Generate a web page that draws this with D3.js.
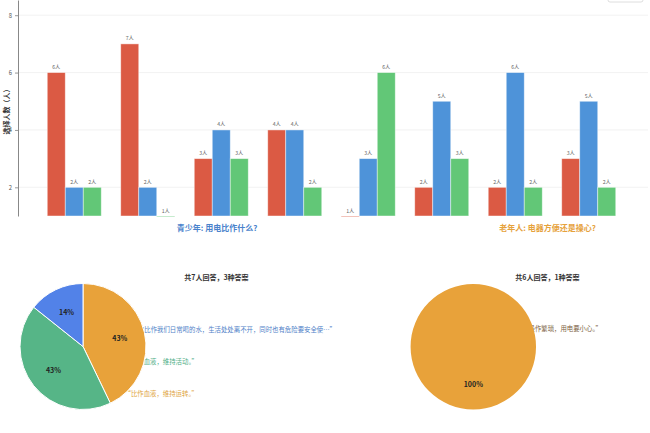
<!DOCTYPE html>
<html>
<head>
<meta charset="utf-8">
<script src="https://cdn.jsdelivr.net/npm/d3@7"></script>
<style>
  html, body { margin: 0; padding: 0; background: #fff; }
  svg { display: block; font-family: "Noto Sans CJK SC", "Noto Sans", sans-serif; }
</style>
</head>
<body>
<svg id="chart" width="650" height="433"></svg>
<script>
// bar chart data: 8 answer groups, 3 series
const groups = ['g1', 'g2', 'g3', 'g4', 'g5', 'g6', 'g7', 'g8'];
const seriesNames = ['red', 'blue', 'green'];
const redValues = [6, 7, 3, 4, 1, 2, 2, 3];
const blueValues = [2, 2, 4, 4, 3, 5, 6, 5];
const greenValues = [2, 1, 3, 2, 6, 3, 2, 2];
const yTicks = [2, 4, 6, 8];
const yLabel = '选择人数（人）';
const sectionLabels = ['青少年: 用电比作什么?', '老年人: 电器方便还是操心?'];

// pie data
const pie1Title = '共7人回答，3种答案';
const pie1Values = [3, 3, 1];
const pie1Texts = [
  '“比作血液，维持运转。”',
  '“把电比作血液，维持活动。”',
  '“把电比作我们日常喝的水，生活处处离不开，同时也有危险要安全使…”',
];
const pie2Title = '共6人回答，1种答案';
const pie2Values = [6];
const pie2Texts = ['“电器操作繁琐，用电要小心。”'];

const barColors = { red: '#db5a44', blue: '#4e93d9', green: '#62c777' };
const pieColors = ['#e8a23a', '#56b587', '#5282e8'];
const pieTextColors = ['#e0a440', '#4fae86', '#4f7fc8'];

const svg = d3.select('#chart');

// ---- bars ----
const x0 = d3.scaleBand().domain(groups).range([18, 645])
  .paddingInner(0.265).paddingOuter(0.398);
const x1 = d3.scaleBand().domain(seriesNames).range([0, x0.bandwidth()]);
const y = d3.scaleLinear().domain([1, 8.53]).range([216, 0]);

svg.append('g')
  .selectAll('line')
  .data(yTicks)
  .join('line')
  .attr('x1', 18)
  .attr('x2', 648)
  .attr('y1', d => y(d))
  .attr('y2', d => y(d))
  .attr('stroke', '#efefef')
  .attr('stroke-width', 0.8);

const barData = groups.map((g, i) => ({
  group: g,
  values: [
    { key: 'red', value: redValues[i] },
    { key: 'blue', value: blueValues[i] },
    { key: 'green', value: greenValues[i] },
  ],
}));

const groupSel = svg.append('g')
  .selectAll('g')
  .data(barData)
  .join('g')
  .attr('transform', d => `translate(${x0(d.group)},0)`);

groupSel.selectAll('rect')
  .data(d => d.values)
  .join('rect')
  .attr('x', d => x1(d.key))
  .attr('y', d => y(d.value))
  .attr('width', x1.bandwidth())
  .attr('height', d => Math.max(0.8, y(1) - y(d.value)))
  .attr('fill', d => barColors[d.key])
  .attr('stroke', 'rgba(255,255,255,0.55)')
  .attr('stroke-width', 0.8);

groupSel.selectAll('text')
  .data(d => d.values)
  .join('text')
  .attr('x', d => x1(d.key) + x1.bandwidth() / 2)
  .attr('y', d => y(d.value) - 3.5)
  .attr('text-anchor', 'middle')
  .attr('font-size', 5.2)
  .attr('fill', '#666')
  .text(d => `${d.value}人`);

const yAxis = svg.append('g')
  .attr('transform', 'translate(18,0)')
  .call(d3.axisLeft(y).tickValues(yTicks).tickSize(3).tickSizeOuter(0));
yAxis.select('.domain').attr('stroke', '#888');
yAxis.selectAll('.tick line').attr('stroke', '#999');
yAxis.selectAll('.tick text')
  .attr('font-size', 5.8)
  .attr('fill', '#555')
  .attr('font-family', '"Noto Sans CJK SC", sans-serif');

svg.append('text')
  .attr('transform', 'translate(9,110) rotate(-90)')
  .attr('text-anchor', 'middle')
  .attr('font-size', 7)
  .attr('font-weight', 'bold')
  .attr('fill', '#333')
  .text(yLabel);

svg.append('text')
  .attr('x', 217).attr('y', 231)
  .attr('text-anchor', 'middle')
  .attr('font-size', 8)
  .attr('font-weight', 'bold')
  .attr('fill', '#4a82cc')
  .text(sectionLabels[0]);

svg.append('text')
  .attr('x', 547.5).attr('y', 231)
  .attr('text-anchor', 'middle')
  .attr('font-size', 8)
  .attr('font-weight', 'bold')
  .attr('fill', '#e6a23c')
  .text(sectionLabels[1]);

// small button box at top right (mostly cut off)
svg.append('rect')
  .attr('x', 608).attr('y', -20)
  .attr('width', 35).attr('height', 22)
  .attr('rx', 2)
  .attr('fill', '#fff')
  .attr('stroke', '#d6d6d6')
  .attr('stroke-width', 0.8);

// ---- pies ----
function drawPie(cx, cy, r, values, colors, texts, textSpecs, title, titleX) {
  svg.append('text')
    .attr('x', titleX).attr('y', 280)
    .attr('text-anchor', 'middle')
    .attr('font-size', 7)
    .attr('font-weight', 'bold')
    .attr('fill', '#333')
    .text(title);

  // answer texts sit behind the pie
  svg.append('g')
    .selectAll('text')
    .data(texts)
    .join('text')
    .attr('x', (d, i) => textSpecs[i].x)
    .attr('y', (d, i) => textSpecs[i].y)
    .attr('text-anchor', 'end')
    .attr('font-size', 6.4)
    .attr('fill', (d, i) => textSpecs[i].color)
    .text(d => d);

  const pie = d3.pie().sort(null).value(d => d);
  const arc = d3.arc().innerRadius(0).outerRadius(r);
  const labelArc = d3.arc().innerRadius(r * 0.6).outerRadius(r * 0.6);
  const total = d3.sum(values);
  const g = svg.append('g').attr('transform', `translate(${cx},${cy})`);
  const arcs = pie(values);

  g.selectAll('path')
    .data(arcs)
    .join('path')
    .attr('d', arc)
    .attr('fill', (d, i) => colors[i])
    .attr('stroke', '#fff')
    .attr('stroke-width', values.length > 1 ? 1 : 0);

  g.selectAll('text')
    .data(arcs)
    .join('text')
    .attr('transform', d => {
      if (values.length === 1) return `translate(0,${r * 0.6})`;
      return `translate(${labelArc.centroid(d)})`;
    })
    .attr('text-anchor', 'middle')
    .attr('dy', '0.35em')
    .attr('font-size', 7)
    .attr('font-weight', 'bold')
    .attr('fill', '#222')
    .text(d => `${Math.round(d.value / total * 100)}%`);
}

drawPie(83, 346.5, 63, pie1Values, pieColors, pie1Texts, [
  { x: 198, y: 396, color: pieTextColors[0] },
  { x: 198, y: 364, color: pieTextColors[1] },
  { x: 336, y: 332, color: pieTextColors[2] },
], pie1Title, 216.5);

drawPie(473.3, 346.7, 62.7, pie2Values, [pieColors[0]], pie2Texts, [
  { x: 602, y: 331, color: '#7c5f43' },
], pie2Title, 547.5);
</script>
</body>
</html>
